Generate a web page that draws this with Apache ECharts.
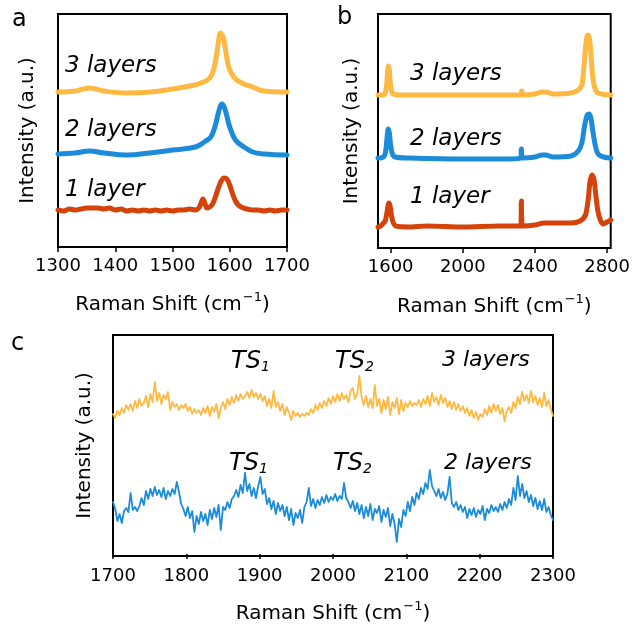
<!DOCTYPE html>
<html>
<head>
<meta charset="utf-8">
<script src="https://cdn.jsdelivr.net/npm/echarts@6/dist/echarts.min.js"></script>
<style>
  html, body { margin: 0; padding: 0; background: #fff; }
  #main { width: 633px; height: 627px; }
</style>
</head>
<body>
<div id="main"></div>
<script>
// panel a : [Raman shift, intensity]
const aLayer3 = [[1300,155],[1330,156],[1355,159],[1380,156],[1420,154],[1460,155],[1500,158],[1530,161],[1550,164],[1565,169],[1573,180],[1579,200],[1584,214],[1589,209],[1594,192],[1600,177],[1610,168],[1625,163],[1640,160],[1660,156],[1700,155]];
const aLayer2 = [[1300,93],[1330,94],[1355,96],[1380,94],[1420,92],[1460,94],[1500,97],[1540,100],[1558,106],[1567,110],[1575,122],[1581,136],[1586,143],[1591,139],[1600,120],[1610,107],[1625,100],[1640,95],[1660,93],[1700,92]];
const aLayer1 = [[1300,37],[1310,36],[1320,38],[1330,37],[1340,38],[1350,39],[1360,39],[1370,39],[1380,38],[1390,39],[1400,37],[1410,38],[1420,36],[1430,37],[1440,36],[1450,37],[1460,36],[1470,37],[1480,36],[1490,37],[1500,36],[1510,37],[1520,37],[1530,38],[1540,37],[1546,39],[1550,44],[1553,48],[1556,45],[1560,39],[1565,40],[1570,43],[1575,50],[1580,59],[1585,66],[1590,69],[1595,68],[1600,62],[1605,53],[1610,46],[1615,42],[1620,40],[1630,38],[1640,37],[1650,37],[1660,36],[1670,37],[1680,36],[1690,37],[1700,37]];

// panel b
const bLayer3 = [[1530,153],[1560,153],[1570,155],[1578,163],[1583,176],[1588,182],[1593,178],[1598,165],[1605,157],[1615,154],[1650,153],[1800,153],[2000,153],[2200,153],[2322,153],[2326,157],[2330,153],[2400,154],[2440,156],[2460,156],[2500,154],[2600,155],[2640,158],[2660,163],[2670,178],[2680,200],[2688,211],[2695,213],[2703,208],[2712,190],[2720,172],[2732,160],[2750,155],[2820,153]];
const bLayer2 = [[1530,90],[1560,91],[1572,96],[1580,110],[1587,119],[1593,115],[1600,103],[1610,94],[1625,91],[1700,90],[2000,89],[2200,89],[2322,90],[2325,99],[2328,99],[2331,90],[2400,91],[2440,93],[2460,93],[2500,91],[2600,92],[2640,97],[2660,105],[2675,122],[2690,133],[2700,134],[2710,130],[2720,118],[2735,102],[2750,94],[2780,91],[2820,90]];
const bLayer1 = [[1530,21],[1545,22],[1560,25],[1570,27],[1580,36],[1590,45],[1597,42],[1605,32],[1615,25],[1630,22],[1700,21],[1800,22],[2000,21],[2200,22],[2322,22],[2325,47],[2328,47],[2331,22],[2400,23],[2450,25],[2500,25],[2600,25],[2650,27],[2680,33],[2695,48],[2705,66],[2717,73],[2728,68],[2738,52],[2750,36],[2765,27],[2780,24],[2800,26],[2820,28]];

// panel c : one value every 3 cm-1 from 1700 to 2300
const cStart = 1700, cStep = 3;
const cLayer3 = [
  140,136,143,139,146,141,149,144,150,143,
  153,146,155,148,151,158,147,160,152,172,
  153,161,150,159,155,162,144,152,147,150,
  144,149,146,150,143,147,140,145,141,144,
  139,146,141,148,138,147,142,150,136,146,
  152,145,155,149,157,151,159,153,160,155,
  158,162,156,164,157,161,155,160,153,158,
  148,155,146,163,147,152,143,150,139,147,
  141,134,143,138,141,137,140,138,141,139,
  145,141,149,144,151,146,153,148,156,150,
  158,152,160,153,161,155,159,152,163,166,
  155,160,178,157,149,158,147,155,146,169,
  148,155,141,154,145,157,139,152,146,156,
  140,154,143,151,147,153,148,151,149,154,
  147,155,150,158,148,161,152,157,149,159,
  151,156,147,153,145,152,144,150,143,148,
  141,146,138,144,136,142,134,140,137,145,
  139,148,141,150,143,149,140,146,133,143,
  147,141,152,146,157,150,162,153,159,151,
  163,152,158,149,156,147,161,148,154,145,
  138];
const cLayer2 = [
  52,45,33,40,31,43,46,42,61,44,
  47,43,48,56,49,63,55,65,58,67,
  59,64,57,66,55,63,58,65,60,72,
  62,50,45,38,47,36,43,22,38,30,
  42,33,40,29,44,35,46,37,49,24,
  47,44,52,46,55,58,64,57,69,61,
  81,63,70,58,66,56,68,77,60,65,
  50,56,45,53,40,51,43,49,38,47,
  34,45,29,41,36,44,31,47,52,66,
  48,55,46,54,49,57,51,59,52,57,
  54,60,53,58,55,71,56,52,46,53,
  43,51,40,49,36,47,38,50,34,45,
  41,48,32,44,37,46,28,40,30,12,
  35,27,44,38,52,43,57,49,61,55,
  66,60,71,65,84,68,63,58,65,56,
  62,54,60,77,51,47,52,44,49,42,
  47,36,45,39,46,37,44,40,48,34,
  45,41,49,43,47,42,50,44,52,46,
  55,49,66,54,78,58,70,56,63,52,
  59,48,56,45,53,44,55,42,47,39,
  34];

const aTicks = [1300, 1400, 1500, 1600, 1700];
const bTicks = [1600, 2000, 2400, 2800];
const cTicks = [1700, 1800, 1900, 2000, 2100, 2200, 2300];

const YELLOW = '#FFB943', BLUE = '#1B8BDA', RED = '#D5430B';
const FONT = '"DejaVu Sans", sans-serif';

var myChart = echarts.init(document.getElementById('main'), null, { renderer: 'canvas' });

function xAxisCfg (gridIndex, min, max, ticks, labelMargin, nameGap) {
    return {
        type: 'value', gridIndex: gridIndex, min: min, max: max,
        axisLine: { show: false },
        splitLine: { show: false },
        axisTick: { show: true, inside: false, length: 5, lineStyle: { color: '#000', width: 1.5 }, customValues: ticks },
        axisLabel: { color: '#000', fontSize: 18, fontFamily: FONT, margin: labelMargin, customValues: ticks,
                     formatter: function (v) { return String(v); } },
        name: '{n|Raman Shift (cm}{s|−1}{n|)}',
        nameLocation: 'middle', nameGap: nameGap,
        nameTextStyle: {
            rich: {
                n: { fontSize: 20, fontFamily: FONT, color: '#000', lineHeight: 24, verticalAlign: 'bottom' },
                s: { fontSize: 13, fontFamily: FONT, color: '#000', lineHeight: 24, verticalAlign: 'top', padding: [0, 0, 0, 1] }
            }
        }
    };
}
function yAxisCfg (gridIndex, min, max, nameGap) {
    return {
        type: 'value', gridIndex: gridIndex, min: min, max: max,
        axisLine: { show: false }, axisTick: { show: false }, axisLabel: { show: false }, splitLine: { show: false },
        name: 'Intensity (a.u.)', nameLocation: 'middle', nameGap: nameGap,
        nameTextStyle: { fontSize: 20, fontFamily: FONT, color: '#000' }
    };
}
function lineSeries (idx, data, color, width, smooth) {
    return {
        type: 'line', xAxisIndex: idx, yAxisIndex: idx, data: data,
        showSymbol: false, smooth: smooth,
        lineStyle: { color: color, width: width, join: 'round', cap: 'round' }
    };
}
function txt (x, y, text, size, italic) {
    return {
        type: 'text', x: x, y: y, silent: true,
        style: { text: text, font: (italic ? 'italic ' : '') + size + 'px ' + FONT, fill: '#000', verticalAlign: 'middle' }
    };
}
function tsLabel (x, y, sub) {
    return {
        type: 'text', x: x, y: y, silent: true,
        style: {
            text: '{t|TS}{s|' + sub + '}', verticalAlign: 'middle',
            rich: {
                t: { fontSize: 24, fontStyle: 'italic', fontFamily: FONT, fill: '#000', lineHeight: 28, verticalAlign: 'bottom' },
                s: { fontSize: 14, fontStyle: 'italic', fontFamily: FONT, fill: '#000', lineHeight: 28, verticalAlign: 'bottom' }
            }
        }
    };
}

var cToPairs = function (arr) { return arr.map(function (v, i) { return [cStart + cStep * i, v]; }); };

var option = {
    animation: false,
    backgroundColor: '#fff',
    grid: [
        { left: 58, top: 14, width: 229, height: 233, show: true, borderColor: '#000', borderWidth: 2, backgroundColor: 'transparent' },
        { left: 378, top: 14, width: 234, height: 234, show: true, borderColor: '#000', borderWidth: 2, backgroundColor: 'transparent' },
        { left: 113, top: 335, width: 440, height: 221, show: true, borderColor: '#000', borderWidth: 2, backgroundColor: 'transparent' }
    ],
    xAxis: [
        xAxisCfg(0, 1300, 1700, aTicks, 10, 44),
        xAxisCfg(1, 1530, 2820, bTicks, 10, 45),
        xAxisCfg(2, 1700, 2300, cTicks, 11, 44)
    ],
    yAxis: [
        yAxisCfg(0, 0, 233, 20),
        yAxisCfg(1, 0, 234, 16),
        yAxisCfg(2, -2, 219, 18)
    ],
    series: [
        lineSeries(0, aLayer3, YELLOW, 5, 0.4),
        lineSeries(0, aLayer2, BLUE, 5, 0.4),
        lineSeries(0, aLayer1, RED, 5, 0.3),
        lineSeries(1, bLayer3, YELLOW, 5, 0.35),
        lineSeries(1, bLayer2, BLUE, 5, 0.35),
        lineSeries(1, bLayer1, RED, 5, 0.25),
        lineSeries(2, cToPairs(cLayer3), YELLOW, 1.8, false),
        lineSeries(2, cToPairs(cLayer2), BLUE, 1.8, false)
    ],
    graphic: [
        txt(12, 20, 'a', 24, false),
        txt(337, 18, 'b', 24, false),
        txt(11, 344, 'c', 24, false),
        txt(65, 66, '3 layers', 23, true),
        txt(65, 130, '2 layers', 23, true),
        txt(65, 190, '1 layer', 23, true),
        txt(410, 74, '3 layers', 23, true),
        txt(410, 139, '2 layers', 23, true),
        txt(410, 197, '1 layer', 23, true),
        tsLabel(231, 360, '1'),
        tsLabel(335, 360, '2'),
        txt(442, 360, '3 layers', 22, true),
        tsLabel(229, 462, '1'),
        tsLabel(333, 462, '2'),
        txt(444, 463, '2 layers', 22, true)
    ]
};
myChart.setOption(option);
</script>
</body>
</html>
